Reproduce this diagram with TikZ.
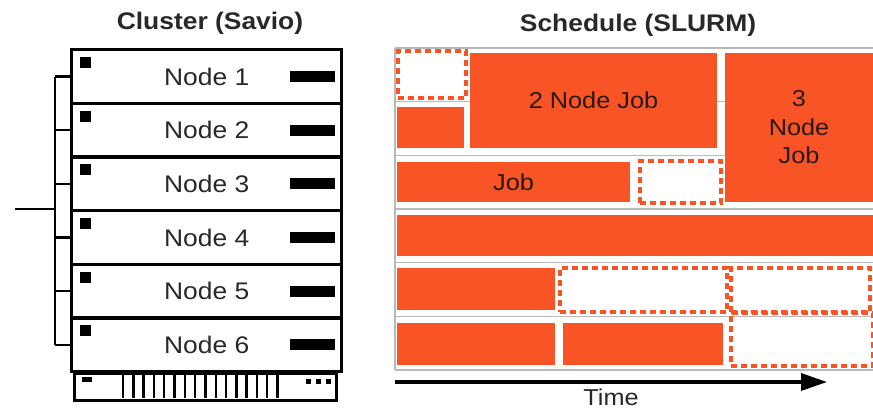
\documentclass[tikz,border=0pt]{standalone}
\usepackage{fontspec}
\setmainfont[FakeStretch=1.1]{Liberation Sans}
\usetikzlibrary{arrows.meta,calc}
\definecolor{joborange}{RGB}{248,84,38}
\definecolor{gridgray}{RGB}{185,185,185}
\definecolor{labelgray}{RGB}{40,40,40}
\definecolor{jobtext}{RGB}{40,25,20}

\begin{document}
\begin{tikzpicture}[x=1pt,y=-1pt,
  title/.style={font=\bfseries\fontsize{24}{28}\selectfont, text=labelgray, anchor=base},
  rackrow/.style={draw, line width=3.4pt, minimum width=270pt, minimum height=53.67pt,
    inner sep=0pt, anchor=north west, text=labelgray, font=\fontsize{24}{28}\selectfont},
  bus/.style={line width=2.4pt},
  job/.style={fill=joborange, inner sep=0pt, text=jobtext,
    font=\fontsize{23}{28.5}\selectfont, align=center},
  freeslot/.style={draw=joborange, line width=3.2pt, dash pattern=on 6pt off 4pt, inner sep=0pt},
  gridline/.style={draw=gridgray, line width=1.6pt}
]
\useasboundingbox (0,0) rectangle (873,409);
\fill[white] (0,0) rectangle (873,409);

% ---------- titles ----------
\node[title] (ctitle) at (210,30) {Cluster (Savio)};
\node[title] (stitle) at (638,32) {Schedule (SLURM)};

% ---------- rack of compute nodes ----------
\foreach \i in {1,...,6} {
  \pgfmathsetmacro\rowtop{48+(\i-1)*53.667}
  \node[rackrow] (n\i) at (70,\rowtop) {Node \i};
  % status light
  \fill ($(n\i.north west)+(10,9)$) rectangle ++(11,11);
  % drive slot
  \fill ($(n\i.east)+(-53,-5.5)$) rectangle ++(45,11);
}

% network bus on the left
\coordinate (busx) at (55,0);
\coordinate (uplink) at (15,209);
\draw[bus] (n1.west -| busx) -- (n6.west -| busx);
\foreach \i in {1,...,6} \draw[bus] (n\i.west -| busx) -- (n\i.west);
\draw[bus] (uplink) -- (uplink -| busx);

% base unit of the rack
\node[draw, line width=3pt, minimum width=262pt, minimum height=27pt, inner sep=0pt,
  anchor=north west] (base) at (73,372) {};
\fill ($(base.north west)+(9,5)$) rectangle ++(10,5);
\foreach \k in {0,...,15}
  \draw[line width=2.4pt] ($(base.north west)+(50+\k*10.3,1)$) -- ++(0,25);
\foreach \k in {0,1,2}
  \fill ($(base.north east)+(-32+\k*10,7)$) rectangle ++(5,5);

% ---------- schedule grid ----------
\foreach \r in {0,...,6} {
  \pgfmathsetmacro\ry{48+\r*53.667}
  \draw[gridline] (395,\ry) -- (873,\ry);
}
\draw[gridline] (395,48) -- (395,370);

% jobs and free slots
\node[freeslot, minimum width=68pt, minimum height=47pt] (f1) at (432,74.5) {};
\node[job, minimum width=247pt, minimum height=95pt] (j2) at (593.5,100.5) {2 Node Job};
\node[job, minimum width=148pt, minimum height=149pt] (j3) at (799,127.5) {3\\Node\\Job};
\node[job, minimum width=67pt, minimum height=41pt] (j1) at (430.5,127.5) {};
\node[job, minimum width=233pt, minimum height=40pt] (jb) at (513.5,182) {Job};
\node[freeslot, minimum width=81pt, minimum height=42pt] (f2) at (680.5,182) {};
\node[job, minimum width=476pt, minimum height=41pt] (j4) at (635,235.5) {};
\node[job, minimum width=158pt, minimum height=42pt] (j5) at (476,289) {};
\node[freeslot, minimum width=167pt, minimum height=44pt] (f3) at (643.5,290) {};
\node[freeslot, minimum width=139pt, minimum height=44pt] (f4) at (800.5,290) {};
\node[job, minimum width=158pt, minimum height=42pt] (j6) at (476,344) {};
\node[job, minimum width=160pt, minimum height=42pt] (j7) at (643,344) {};
\node[freeslot, minimum width=142pt, minimum height=53pt] (f5) at (802,339.5) {};

% time axis
\coordinate (t0) at (395,382);
\coordinate (t1) at (827,382);
\draw[line width=3.4pt, -{Triangle[length=26pt,width=17pt]}] (t0) -- (t1);
\node[anchor=base, text=labelgray, font=\fontsize{23}{28}\selectfont] (time) at (611,405) {Time};
\end{tikzpicture}
\end{document}
